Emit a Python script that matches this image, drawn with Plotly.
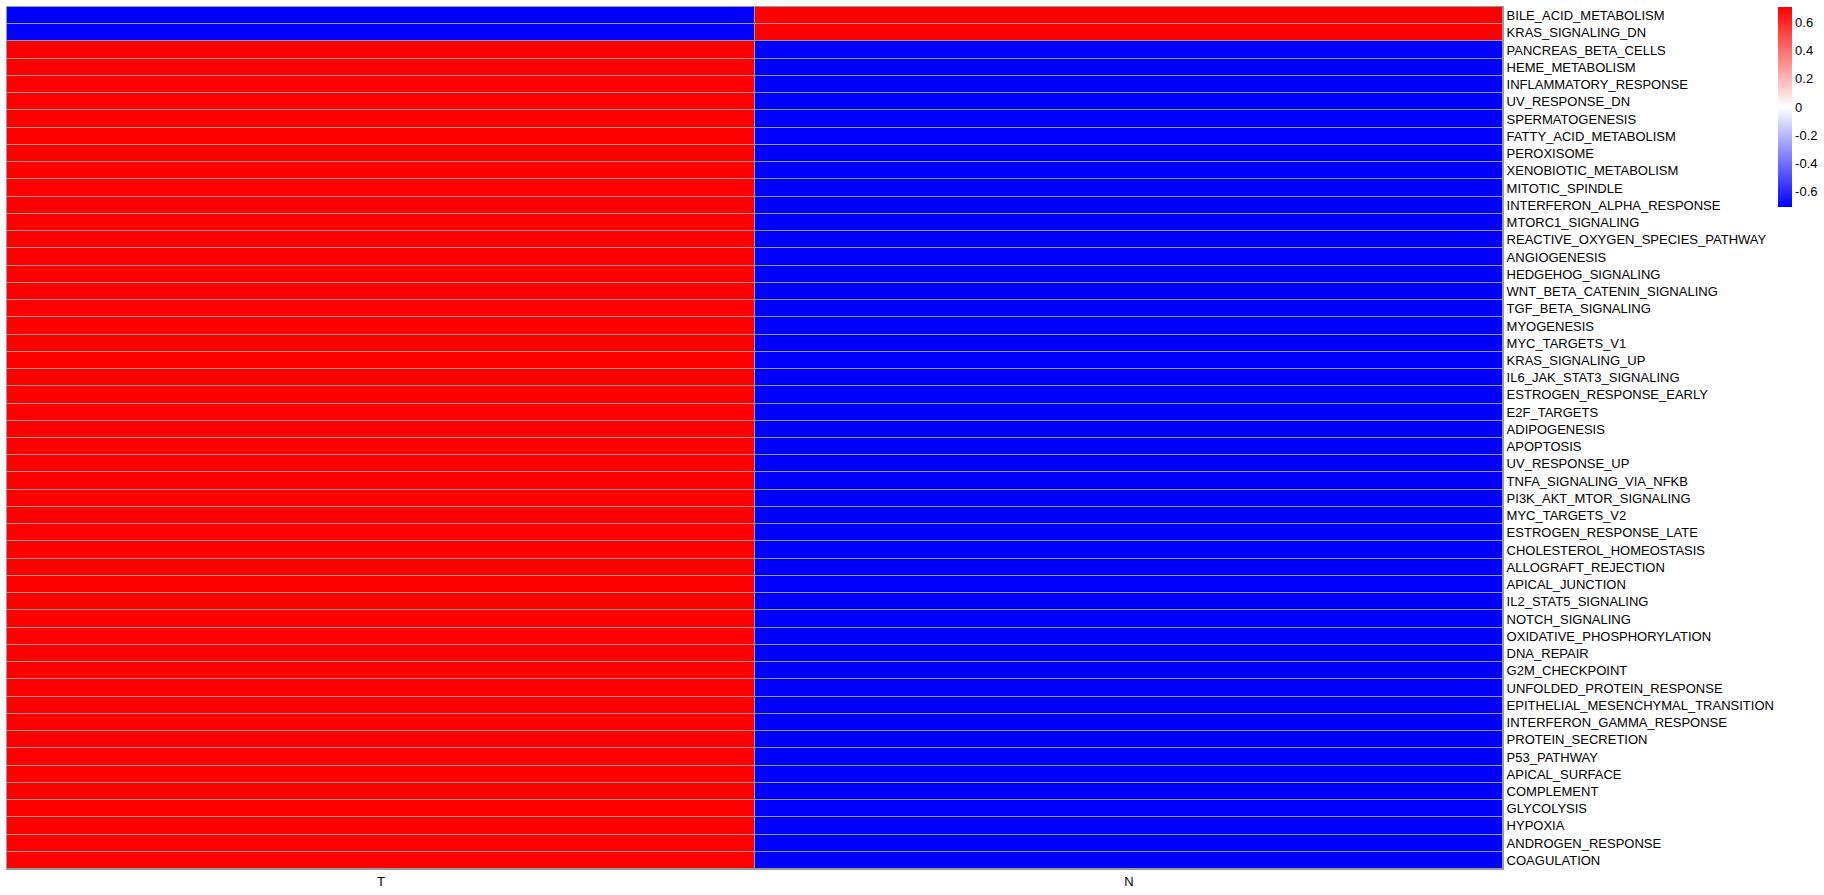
import plotly.graph_objects as go

pathways = [
    "BILE_ACID_METABOLISM", "KRAS_SIGNALING_DN", "PANCREAS_BETA_CELLS", "HEME_METABOLISM",
    "INFLAMMATORY_RESPONSE", "UV_RESPONSE_DN", "SPERMATOGENESIS", "FATTY_ACID_METABOLISM",
    "PEROXISOME", "XENOBIOTIC_METABOLISM", "MITOTIC_SPINDLE", "INTERFERON_ALPHA_RESPONSE",
    "MTORC1_SIGNALING", "REACTIVE_OXYGEN_SPECIES_PATHWAY", "ANGIOGENESIS", "HEDGEHOG_SIGNALING",
    "WNT_BETA_CATENIN_SIGNALING", "TGF_BETA_SIGNALING", "MYOGENESIS", "MYC_TARGETS_V1",
    "KRAS_SIGNALING_UP", "IL6_JAK_STAT3_SIGNALING", "ESTROGEN_RESPONSE_EARLY", "E2F_TARGETS",
    "ADIPOGENESIS", "APOPTOSIS", "UV_RESPONSE_UP", "TNFA_SIGNALING_VIA_NFKB",
    "PI3K_AKT_MTOR_SIGNALING", "MYC_TARGETS_V2", "ESTROGEN_RESPONSE_LATE", "CHOLESTEROL_HOMEOSTASIS",
    "ALLOGRAFT_REJECTION", "APICAL_JUNCTION", "IL2_STAT5_SIGNALING", "NOTCH_SIGNALING",
    "OXIDATIVE_PHOSPHORYLATION", "DNA_REPAIR", "G2M_CHECKPOINT", "UNFOLDED_PROTEIN_RESPONSE",
    "EPITHELIAL_MESENCHYMAL_TRANSITION", "INTERFERON_GAMMA_RESPONSE", "PROTEIN_SECRETION",
    "P53_PATHWAY", "APICAL_SURFACE", "COMPLEMENT", "GLYCOLYSIS", "HYPOXIA",
    "ANDROGEN_RESPONSE", "COAGULATION",
]
samples = ["T", "N"]
t_values = [-0.7071, -0.7071] + [0.7071] * 48
n_values = [0.7071, 0.7071] + [-0.7071] * 48

z = [[t, n] for t, n in zip(t_values, n_values)]

W, H = 1824, 895
ml, mr, mt, mb = 6, 321, 6, 25
pw = W - ml - mr

fig = go.Figure(go.Heatmap(
    z=z, x=samples, y=pathways,
    colorscale=[[0, "#0000FF"], [0.5, "#FFFFFF"], [1, "#FF0000"]],
    zmin=-0.7071, zmax=0.7071,
    xgap=1, ygap=1,
    hoverongaps=False,
    colorbar=dict(
        x=(1778 - ml) / pw, xanchor="left", xref="paper",
        y=1, yanchor="top",
        thickness=14, len=200, lenmode="pixels",
        outlinewidth=0, ticks="", ypad=0, xpad=0,
        tickvals=[-0.6, -0.4, -0.2, 0, 0.2, 0.4, 0.6],
        ticktext=["-0.6", "-0.4", "-0.2", "0", "0.2", "0.4", "0.6"],
        tickfont=dict(family="Liberation Sans, Arial", size=13, color="black"),
    ),
))

fig.update_layout(
    width=W, height=H,
    margin=dict(l=ml, r=mr, t=mt, b=mb),
    paper_bgcolor="white", plot_bgcolor="#999999",
    font=dict(family="Liberation Sans, Arial", size=13, color="black"),
)
fig.update_xaxes(showgrid=False, zeroline=False, ticks="", ticklen=0,
                 showline=True, linecolor="#999999", linewidth=1, mirror=True,
                 tickfont=dict(size=13))
fig.update_yaxes(autorange="reversed", side="right", showgrid=False, zeroline=False,
                 ticks="", ticklen=0, showline=True, linecolor="#999999", linewidth=1,
                 mirror=True, tickfont=dict(size=13))

fig.write_html(
    "out.html",
    config={"displayModeBar": False},
    post_script="document.body.style.margin='0';document.body.style.overflow='hidden';",
)
